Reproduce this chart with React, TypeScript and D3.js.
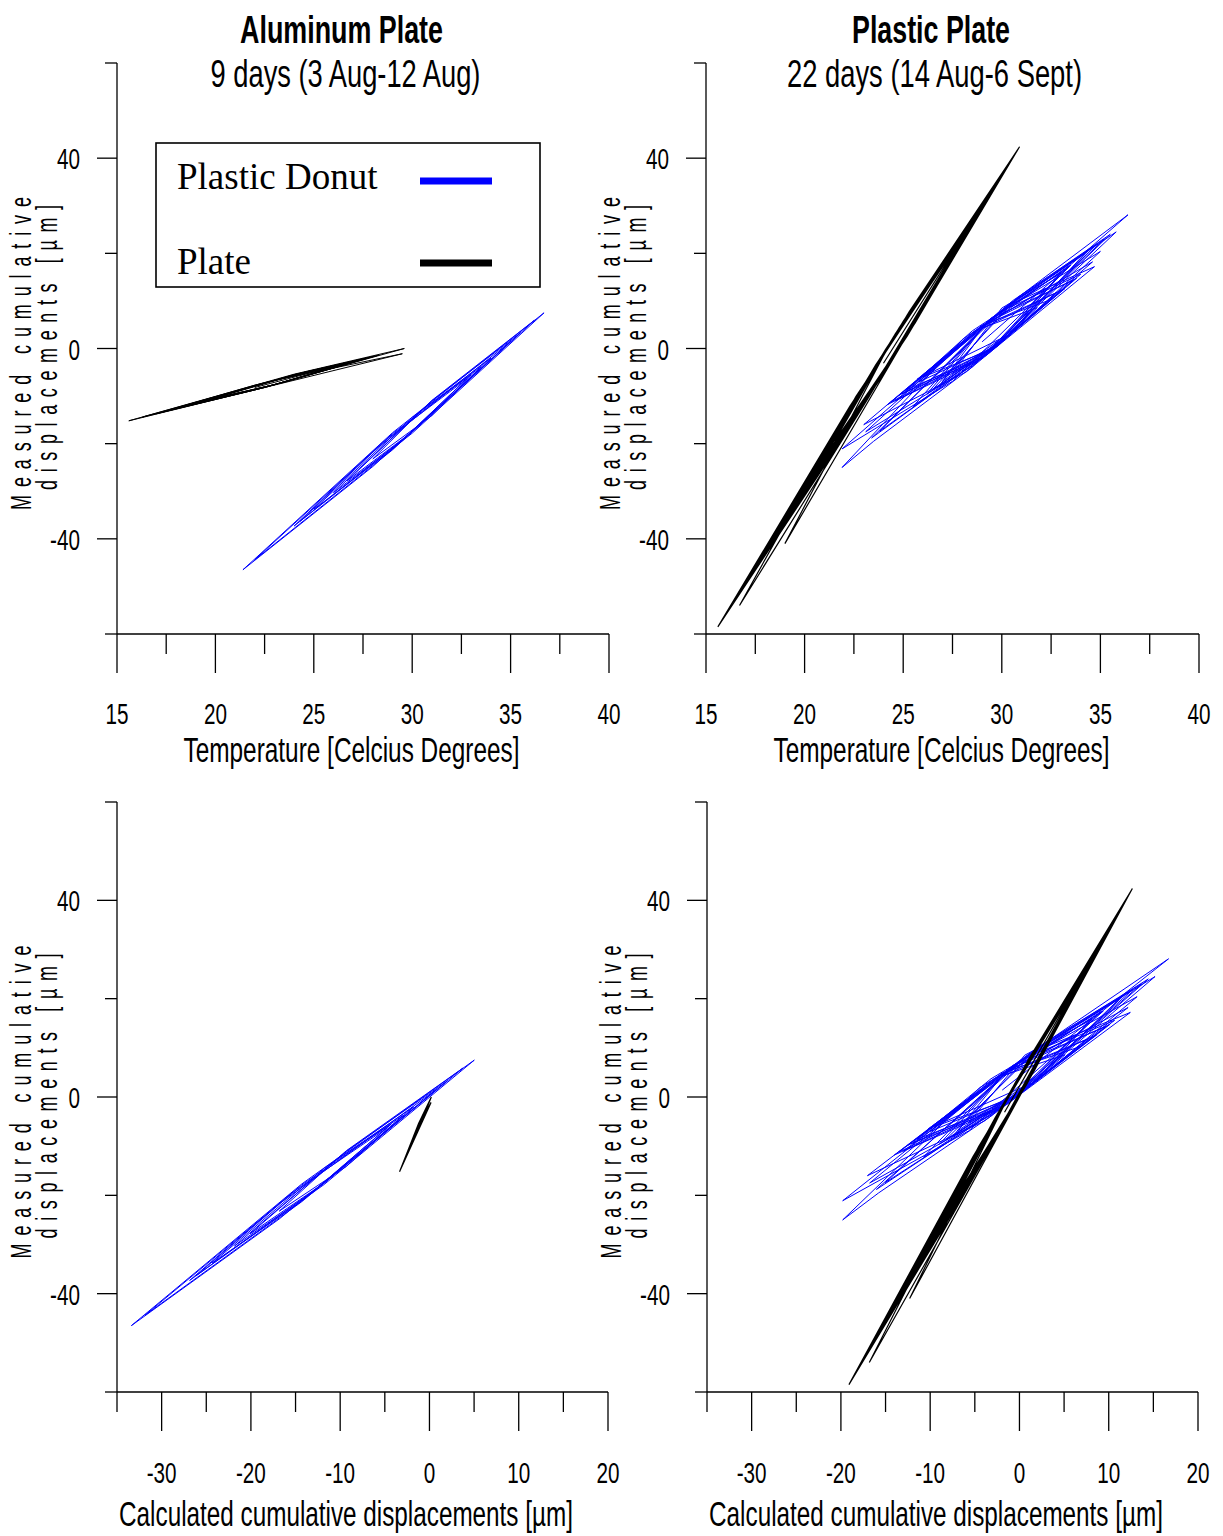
import React from 'react';
import * as d3 from 'd3';

// ---------------- DATA ----------------
// Aluminum plate experiment (9 days): Plate sensor
const aluPlateTemp = [22.0, 27.5, 24.0, 19.0, 23.0, 28.3, 23.5, 18.2, 22.5, 26.8, 22.0, 17.0, 22.0, 29.6, 24.0, 15.6, 22.0, 29.5, 23.0, 16.3, 22.5, 27.0, 23.0, 18.6, 23.5, 28.0, 24.0, 19.5, 23.0, 26.5, 22.5, 18.0, 23.0, 27.8, 24.5, 20.0, 23.0];
const aluPlateMeas = [-8.2, -2.2, -5.5, -11.5, -7.6, -1.4, -6.1, -12.4, -8.2, -3.0, -7.7, -13.7, -8.7, 0.0, -5.4, -15.2, -8.7, -1.1, -6.7, -14.4, -8.2, -2.8, -6.7, -11.9, -7.1, -1.7, -5.5, -10.9, -7.6, -3.3, -7.2, -12.6, -7.6, -1.9, -5.0, -10.4, -7.6];
const aluPlateCalc = [-1.72, -0.33, -1.22, -2.49, -1.47, -0.12, -1.34, -2.69, -1.60, -0.51, -1.72, -2.99, -1.72, 0.21, -1.22, -3.35, -1.72, 0.18, -1.47, -3.17, -1.60, -0.45, -1.47, -2.59, -1.34, -0.20, -1.22, -2.36, -1.47, -0.58, -1.60, -2.74, -1.47, -0.25, -1.09, -2.23, -1.47];

// Aluminum plate experiment (9 days): Plastic donut sensor
const aluDonutTemp = [28.0, 31.0, 33.5, 29.0, 24.3, 30.0, 36.7, 29.0, 21.4, 28.0, 35.0, 28.0, 22.0, 29.0, 36.2, 31.0, 26.7, 30.0, 34.0, 30.0, 25.0, 29.0, 32.8, 28.5, 24.0, 30.0, 35.5, 31.0, 26.0, 29.5, 33.0, 30.5, 28.0];
const aluDonutMeas = [-23.2, -14.1, -3.8, -17.9, -36.3, -17.8, 7.5, -17.7, -46.5, -24.8, 1.5, -21.7, -44.4, -21.3, 5.9, -10.9, -27.8, -17.5, -2.0, -14.5, -33.8, -21.2, -6.3, -19.7, -37.3, -17.5, 3.3, -11.0, -30.3, -19.3, -5.5, -12.9, -23.2];
const aluDonutCalc = [-16.82, -9.29, -3.01, -14.31, -26.11, -11.8, 5.02, -14.31, -33.39, -16.82, 0.75, -16.82, -31.88, -14.31, 3.76, -9.29, -20.08, -11.8, -1.76, -11.8, -24.35, -14.31, -4.77, -15.56, -26.86, -11.8, 2.01, -9.29, -21.84, -13.05, -4.27, -10.54, -16.82];

// Plastic plate experiment (22 days): Plate sensor
const plaPlateTemp = [24.0, 29.5, 25.2, 21.0, 25.6, 30.2, 24.8, 19.5, 25.2, 30.9, 24.4, 18.0, 24.0, 30.0, 23.5, 17.0, 23.0, 29.0, 22.3, 15.6, 22.0, 28.5, 22.6, 16.7, 23.2, 29.8, 24.5, 19.0, 24.8, 30.7, 25.3, 20.0, 24.0, 28.0, 23.5, 19.0, 24.2, 29.3, 23.4, 17.5, 24.0, 30.4, 23.4, 16.4, 22.6, 28.8, 23.6, 18.5, 24.0, 29.6, 25.0, 20.5, 24.8, 30.0, 24.6, 19.2, 23.8, 28.3, 24.9, 21.5, 25.2, 29.0, 23.9, 18.8, 24.6, 30.5, 23.8, 17.2, 23.2, 29.2, 24.5, 19.8, 24.2, 28.7, 24.7, 20.8, 25.3, 29.9, 24.1, 18.3, 24.3, 30.3, 25.0, 19.6, 24.0, 28.5, 24.8, 21.0];
const plaPlateMeas = [-3.1, 33.2, 7.0, -22.9, 5.3, 37.8, 4.4, -32.8, 2.6, 42.4, 1.7, -42.7, -5.3, 36.5, -4.2, -49.3, -11.9, 29.9, -12.1, -58.5, -18.5, 26.6, -10.1, -54.0, -10.6, 35.2, 2.4, -41.0, 0.0, 41.1, 7.7, -29.5, -5.3, 23.3, -4.2, -36.1, -4.0, 31.9, -4.9, -46.0, -5.3, 39.1, -4.9, -53.3, -14.5, 28.6, -3.5, -39.4, -5.3, 33.9, 5.7, -26.2, 0.0, 36.5, 3.1, -34.8, -6.6, 25.3, 5.0, -19.6, 2.6, 29.9, -1.6, -37.4, -1.3, 39.8, -2.2, -48.0, -10.6, 31.2, 2.4, -30.8, -4.0, 27.9, 3.7, -24.2, 3.3, 35.8, -0.2, -40.7, -3.3, 38.5, 5.7, -32.1, -5.3, 26.6, 4.4, -22.9];
const plaPlateCalc = [-1.67, 9.74, 0.82, -7.90, 1.65, 11.20, -0.01, -11.01, 0.82, 12.65, -0.84, -14.12, -1.67, 10.78, -2.71, -16.19, -3.74, 8.71, -5.20, -19.10, -5.82, 7.67, -4.57, -16.82, -3.33, 10.37, -0.63, -12.30, -0.01, 12.23, 1.03, -9.97, -1.67, 6.63, -2.71, -12.04, -1.25, 9.33, -2.91, -15.16, -1.67, 11.61, -2.91, -17.44, -4.57, 8.29, -2.50, -13.08, -1.67, 9.95, 0.41, -8.93, -0.01, 10.78, -0.42, -11.63, -2.08, 7.25, 0.20, -6.86, 0.82, 8.71, -1.88, -12.46, -0.42, 11.82, -2.08, -15.78, -3.33, 9.12, -0.63, -10.38, -1.25, 8.08, -0.22, -8.31, 1.03, 10.57, -1.46, -13.50, -1.05, 11.40, 0.41, -10.80, -1.67, 7.67, -0.01, -7.90];

// Plastic plate experiment (22 days): Plastic donut sensor
const plaDonutTemp = [29.0, 36.4, 31.0, 25.7, 30.5, 35.0, 29.5, 23.1, 28.5, 34.6, 29.0, 21.9, 27.5, 33.5, 28.0, 21.9, 23.5, 28.5, 34.8, 30.0, 23.4, 29.0, 33.2, 28.8, 24.4, 29.5, 35.5, 30.8, 26.5, 30.0, 32.5, 29.0, 24.8, 29.8, 34.2, 30.2, 27.0, 30.5, 33.0, 28.5, 25.2, 29.2, 33.8, 29.3, 23.8, 28.6, 35.2, 30.6, 26.0, 29.6, 32.8, 29.1, 25.5, 30.1, 34.4, 30.2, 24.2, 29.3, 31.8, 29.0, 26.8, 30.3, 34.0, 29.8, 25.0, 29.0, 33.0, 30.0, 27.5, 30.4, 35.8, 30.8, 24.6, 28.8, 33.6, 29.4, 26.2, 29.9, 32.2, 28.6, 23.0, 28.2, 34.7, 30.4, 25.8, 29.7, 33.4, 29.4, 26.6];
const plaDonutMeas = [1.4, 28.1, 11.3, -6.5, 3.2, 20.4, 6.5, -17.5, -3.7, 18.2, 4.7, -21.1, -6.9, 17.5, 1.9, -25.0, -19.5, -3.9, 21.8, 8.1, -18.8, -1.9, 12.6, 3.8, -11.2, -0.1, 24.0, 10.7, -8.6, 1.5, 10.3, 4.9, -9.8, 0.5, 19.9, 8.5, -6.9, 3.3, 16.0, 3.7, -8.6, -1.5, 14.8, 5.5, -17.4, -3.2, 23.0, 10.2, -6.0, 0.0, 11.8, 4.8, -12.2, 1.7, 20.6, 8.7, -11.8, -1.1, 8.6, 4.3, -8.0, 2.7, 15.6, 7.5, -9.4, -2.1, 15.8, 8.5, -5.2, 3.4, 24.5, 10.5, -11.0, -2.6, 14.3, 6.2, -9.6, 1.3, 12.6, 3.6, -16.0, -4.9, 17.2, 9.2, -7.0, 0.5, 17.4, 5.4, -5.9];
const plaDonutCalc = [-1.93, 16.70, 3.11, -10.23, 1.85, 13.18, -0.67, -16.78, -3.19, 12.17, -1.93, -19.80, -5.70, 9.40, -4.44, -19.80, -15.77, -3.19, 12.67, 0.59, -16.02, -1.93, 8.64, -2.43, -13.51, -0.67, 14.43, 2.60, -8.22, 0.59, 6.88, -1.93, -12.50, 0.09, 11.16, 1.09, -6.96, 1.85, 8.14, -3.19, -11.49, -1.42, 10.15, -1.17, -15.02, -2.93, 13.68, 2.10, -9.48, -0.42, 7.64, -1.68, -10.74, 0.84, 11.66, 1.09, -14.01, -1.17, 5.12, -1.93, -7.46, 1.35, 10.66, 0.09, -11.99, -1.93, 8.14, 0.59, -5.70, 1.60, 15.19, 2.60, -13.00, -2.43, 9.65, -0.92, -8.97, 0.34, 6.13, -2.93, -17.03, -3.94, 12.42, 1.60, -9.98, -0.17, 9.15, -0.92, -7.97];

// Axis ticks
const tempTicks = [15, 20, 25, 30, 35, 40];
const tempMinorTicks = [17.5, 22.5, 27.5, 32.5, 37.5];
const calcTicks = [-30, -20, -10, 0, 10, 20];
const calcMinorTicks = [-35, -25, -15, -5, 5, 15];
const yTicks = [-40, 0, 40];
const yMinorTicks = [-60, -20, 20, 60];
const yDomain = [-60, 60];
const tempDomain = [15, 40];
const calcDomain = [-35, 20];

// Text
const titles = ['Aluminum Plate', 'Plastic Plate'];
const subtitles = ['9 days (3 Aug-12 Aug)', '22 days (14 Aug-6 Sept)'];
const tempLabel = 'Temperature [Celcius Degrees]';
const calcLabel = 'Calculated cumulative displacements [\u00b5m]';
const yLabel1 = 'Measured cumulative';
const yLabel2 = 'displacements [\u00b5m]';
const legendNames = ['Plastic Donut', 'Plate'];

const BLUE = '#0000ff';
const BLACK = '#000000';
const SANS = "'Liberation Sans', Arial, Helvetica, sans-serif";
const SERIF = "'Liberation Serif', 'Times New Roman', serif";
const SX = 0.69;

type Series = { x: number[]; y: number[]; color: string; w: number };

const zipPts = (xs: number[], ys: number[]) => xs.map((v, i) => [v, ys[i]] as [number, number]);

function Panel({ x0, x1, y0, y1, xDomain, major, minor, series, xTitle, xTitleSx, xTitleCx, labelBaseline, titleBaseline }: any) {
  const xs = d3.scaleLinear().domain(xDomain).range([x0, x1]);
  const ys = d3.scaleLinear().domain(yDomain).range([y0, y1]);
  const line = d3.line<[number, number]>().x(d => xs(d[0])).y(d => ys(d[1]));
  const axisY = ys(yDomain[0]);
  const midY = (y0 + y1) / 2;
  return (
    <g>
      {series.map((s: Series, i: number) => (
        <path key={i} d={line(zipPts(s.x, s.y)) || ''} fill="none" stroke={s.color} strokeWidth={s.w} strokeLinejoin="miter" />
      ))}
      {/* y axis */}
      <line x1={x0} x2={x0} y1={ys(yDomain[0])} y2={ys(yDomain[1])} stroke="#000" strokeWidth={1.3} />
      {yTicks.map(t => (
        <g key={'yt' + t}>
          <line x1={x0 - 20} x2={x0} y1={ys(t)} y2={ys(t)} stroke="#000" strokeWidth={1.3} />
          <text transform={`translate(${x0 - 37},${ys(t) + 11}) scale(${SX},1)`} fontSize={30} fontFamily={SANS} textAnchor="end">{t}</text>
        </g>
      ))}
      {yMinorTicks.map(t => (
        <line key={'ym' + t} x1={x0 - 12} x2={x0} y1={ys(t)} y2={ys(t)} stroke="#000" strokeWidth={1.3} />
      ))}
      {/* x axis */}
      <line x1={xs(xDomain[0])} x2={xs(xDomain[1])} y1={axisY} y2={axisY} stroke="#000" strokeWidth={1.3} />
      {major.map((t: number) => (
        <g key={'xt' + t}>
          <line x1={xs(t)} x2={xs(t)} y1={axisY} y2={axisY + 39} stroke="#000" strokeWidth={1.3} />
          <text transform={`translate(${xs(t)},${labelBaseline}) scale(${SX},1)`} fontSize={30} fontFamily={SANS} textAnchor="middle">{t}</text>
        </g>
      ))}
      {minor.map((t: number) => (
        <line key={'xm' + t} x1={xs(t)} x2={xs(t)} y1={axisY} y2={axisY + 20} stroke="#000" strokeWidth={1.3} />
      ))}
      <text transform={`translate(${xTitleCx},${titleBaseline}) scale(${xTitleSx},1)`} fontSize={35} fontFamily={SANS} textAnchor="middle">{xTitle}</text>
      {/* y label */}
      <text transform={`translate(${x0 - 86},${midY + 5}) rotate(-90) scale(0.62,1)`} fontSize={29} fontFamily={SANS} textAnchor="middle" textLength={313 / 0.62} lengthAdjust="spacing">{yLabel1}</text>
      <text transform={`translate(${x0 - 60},${midY - 1}) rotate(-90) scale(0.62,1)`} fontSize={29} fontFamily={SANS} textAnchor="middle" textLength={285 / 0.62} lengthAdjust="spacing">{yLabel2}</text>
    </g>
  );
}

export default function App() {
  const panels = [
    {
      x0: 117, x1: 609, y0: 634, y1: 63, xDomain: tempDomain, major: tempTicks, minor: tempMinorTicks,
      series: [{ x: aluDonutTemp, y: aluDonutMeas, color: BLUE, w: 1 }, { x: aluPlateTemp, y: aluPlateMeas, color: BLACK, w: 1 }],
      xTitle: tempLabel, xTitleSx: 0.697, xTitleCx: 351.5, labelBaseline: 724, titleBaseline: 762,
    },
    {
      x0: 706, x1: 1199, y0: 634, y1: 63, xDomain: tempDomain, major: tempTicks, minor: tempMinorTicks,
      series: [{ x: plaDonutTemp, y: plaDonutMeas, color: BLUE, w: 1 }, { x: plaPlateTemp, y: plaPlateMeas, color: BLACK, w: 1.2 }],
      xTitle: tempLabel, xTitleSx: 0.697, xTitleCx: 941.5, labelBaseline: 724, titleBaseline: 762,
    },
    {
      x0: 117, x1: 608, y0: 1392, y1: 802, xDomain: calcDomain, major: calcTicks, minor: calcMinorTicks,
      series: [{ x: aluDonutCalc, y: aluDonutMeas, color: BLUE, w: 1 }, { x: aluPlateCalc, y: aluPlateMeas, color: BLACK, w: 1.2 }],
      xTitle: calcLabel, xTitleSx: 0.694, xTitleCx: 346, labelBaseline: 1483, titleBaseline: 1526,
    },
    {
      x0: 707, x1: 1198, y0: 1392, y1: 802, xDomain: calcDomain, major: calcTicks, minor: calcMinorTicks,
      series: [{ x: plaDonutCalc, y: plaDonutMeas, color: BLUE, w: 1 }, { x: plaPlateCalc, y: plaPlateMeas, color: BLACK, w: 1.2 }],
      xTitle: calcLabel, xTitleSx: 0.694, xTitleCx: 936, labelBaseline: 1483, titleBaseline: 1526,
    },
  ];

  const titleCx = [341.5, 931];
  const titleSx = [0.707, 0.706];
  const subCx = [345.5, 934.5];
  const subSx = [0.718, 0.72];

  return (
    <svg width={1223} height={1536} style={{ position: 'absolute', left: 0, top: 0, background: '#fff' }}>
      <rect x={0} y={0} width={1223} height={1536} fill="#fff" />
      {panels.map((p, i) => <Panel key={i} {...p} />)}
      {titles.map((t, i) => (
        <text key={'t' + i} transform={`translate(${titleCx[i]},43) scale(${titleSx[i]},1)`} fontSize={38} fontWeight="bold" fontFamily={SANS} textAnchor="middle">{t}</text>
      ))}
      {subtitles.map((t, i) => (
        <text key={'s' + i} transform={`translate(${subCx[i]},87) scale(${subSx[i]},1)`} fontSize={38} fontFamily={SANS} textAnchor="middle">{t}</text>
      ))}
      {/* legend */}
      <rect x={156} y={143} width={384} height={144} fill="#fff" stroke="#000" strokeWidth={1.6} />
      <text x={177} y={189} fontSize={37} fontFamily={SERIF}>{legendNames[0]}</text>
      <text x={177} y={274} fontSize={37} fontFamily={SERIF}>{legendNames[1]}</text>
      <line x1={420} x2={492} y1={181} y2={181} stroke={BLUE} strokeWidth={7} />
      <line x1={420} x2={492} y1={263} y2={263} stroke={BLACK} strokeWidth={7} />
    </svg>
  );
}
